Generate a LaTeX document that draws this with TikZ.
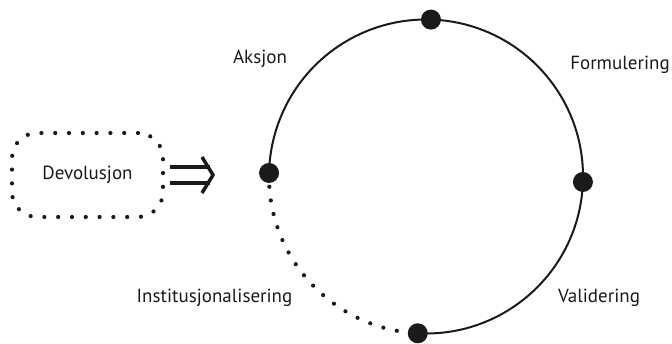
\documentclass[tikz,border=0pt]{standalone}
\usepackage{fontspec}
\setmainfont{PT Sans}
\usetikzlibrary{calc}
\definecolor{ink}{HTML}{1A1A1A}
\tikzset{
  lbl/.style={font=\fontsize{19}{22}\selectfont, text=ink, inner sep=0pt},
  bigdot/.style={circle, fill=ink, minimum size=20pt, inner sep=0pt},
  dotline/.style={draw=ink, line width=4.2pt, line cap=round, dash pattern=on 0pt off 13.8pt},
  ring/.style={draw=ink, line width=2pt},
  arrowln/.style={draw=ink, line width=3.5pt},
}
\begin{document}
\begin{tikzpicture}[x=1pt,y=1pt]
\useasboundingbox (0,0) rectangle (672,343);
\coordinate (c) at (426,166.5);
% solid arc
\draw[ring] ($(c)+(-93:157pt)$) arc[start angle=-93, end angle=178.7, radius=157pt];
% dotted arc
\draw[dotline] ($(c)+(178.7:157pt)$) arc[start angle=178.7, end angle=267, radius=157pt];
% dots
\node[bigdot] (top) at ($(c)+(88.2:157pt)$) {};
\node[bigdot] (right) at ($(c)+(-2:157pt)$) {};
\node[bigdot] (bottom) at ($(c)+(-93:157pt)$) {};
\node[bigdot] (left) at ($(c)+(178.7:157pt)$) {};
% labels
\node[lbl] (aks) at (260,284) {Aksjon};
\node[lbl] (form) at (620,278) {Formulering};
\node[lbl] (val) at (599,45) {Validering};
\node[lbl] (inst) at (214.5,45) {Institusjonalisering};
% devolution box
\node[lbl, dotline, rounded corners=25pt, minimum width=151pt, minimum height=84pt] (dev) at (87.5,168) {Devolusjon};
% implies arrow
\coordinate (a1) at (170,176);
\coordinate (a2) at (210,176);
\coordinate (b1) at (170,160);
\coordinate (b2) at (210,160);
\coordinate (ctop) at (202,186);
\coordinate (ctip) at (213,168);
\coordinate (cbot) at (202,150);
\draw[arrowln] (a1) -- (a2);
\draw[arrowln] (b1) -- (b2);
\draw[arrowln, line join=miter] (ctop) -- (ctip) -- (cbot);
\end{tikzpicture}
\end{document}
